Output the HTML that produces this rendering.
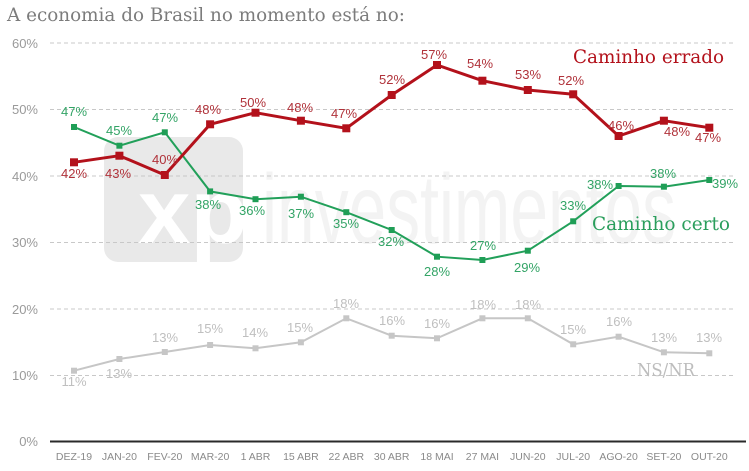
<!DOCTYPE html>
<html><head><meta charset="utf-8"><style>
html,body{margin:0;padding:0;background:#fff;}
svg{display:block;}
</style></head><body>
<svg width="749" height="471" viewBox="0 0 749 471" xmlns="http://www.w3.org/2000/svg">
<rect width="749" height="471" fill="#fff"/>
<!-- title -->
<text x="7" y="21" font-family="DejaVu Serif, Liberation Serif, serif" font-size="19" fill="#7c7c7c" textLength="398" lengthAdjust="spacingAndGlyphs">A economia do Brasil no momento está no:</text>

<!-- watermark -->
<rect x="104" y="137" width="139" height="125" rx="14" fill="#e9e9e9"/>
<text x="138" y="243" font-family="Liberation Sans, sans-serif" font-weight="bold" font-size="92" fill="#fff" textLength="110" lengthAdjust="spacingAndGlyphs">xp</text>
<text x="262" y="243" font-family="Liberation Sans, sans-serif" font-size="98" fill="#f3f3f3" textLength="414" lengthAdjust="spacingAndGlyphs">investimentos</text>

<!-- gridlines -->
<g stroke="#c8c8c8" stroke-width="1" stroke-dasharray="4,3">
<line x1="50" y1="43" x2="733" y2="43"/>
<line x1="50" y1="109.5" x2="733" y2="109.5"/>
<line x1="50" y1="176" x2="733" y2="176"/>
<line x1="50" y1="242.5" x2="733" y2="242.5"/>
<line x1="50" y1="309" x2="733" y2="309"/>
<line x1="50" y1="375.5" x2="733" y2="375.5"/>
</g>
<line x1="50" y1="441.5" x2="746" y2="441.5" stroke="#2a2a2a" stroke-width="2"/>

<!-- y labels -->
<g font-family="Liberation Sans, sans-serif" font-size="13" fill="#9a9a9a" text-anchor="end">
<text x="38" y="48">60%</text>
<text x="38" y="114">50%</text>
<text x="38" y="181">40%</text>
<text x="38" y="247">30%</text>
<text x="38" y="314">20%</text>
<text x="38" y="380">10%</text>
<text x="38" y="446">0%</text>
</g>

<!-- x labels -->
<g font-family="Liberation Sans, sans-serif" font-size="10.5" fill="#8a8a8a" text-anchor="middle">
<text x="74" y="460">DEZ-19</text>
<text x="119.4" y="460">JAN-20</text>
<text x="164.8" y="460">FEV-20</text>
<text x="210.1" y="460">MAR-20</text>
<text x="255.5" y="460">1 ABR</text>
<text x="300.9" y="460">15 ABR</text>
<text x="346.3" y="460">22 ABR</text>
<text x="391.7" y="460">30 ABR</text>
<text x="437" y="460">18 MAI</text>
<text x="482.4" y="460">27 MAI</text>
<text x="527.8" y="460">JUN-20</text>
<text x="573.2" y="460">JUL-20</text>
<text x="618.6" y="460">AGO-20</text>
<text x="663.9" y="460">SET-20</text>
<text x="709.3" y="460">OUT-20</text>
</g>

<!-- gray series -->
<polyline fill="none" stroke="#c6c6c6" stroke-width="2" points="74,370.7 119.4,359 164.8,352 210.1,345 255.5,348.3 300.9,342.3 346.3,318.3 391.7,335.7 437,338.3 482.4,318.3 527.8,318.3 573.2,344.3 618.6,336.7 663.9,352.3 709.3,353.3"/>
<g fill="#c6c6c6">
<rect x="71" y="367.7" width="6" height="6"/><rect x="116.4" y="356" width="6" height="6"/><rect x="161.8" y="349" width="6" height="6"/><rect x="207.1" y="342" width="6" height="6"/><rect x="252.5" y="345.3" width="6" height="6"/><rect x="297.9" y="339.3" width="6" height="6"/><rect x="343.3" y="315.3" width="6" height="6"/><rect x="388.7" y="332.7" width="6" height="6"/><rect x="434" y="335.3" width="6" height="6"/><rect x="479.4" y="315.3" width="6" height="6"/><rect x="524.8" y="315.3" width="6" height="6"/><rect x="570.2" y="341.3" width="6" height="6"/><rect x="615.6" y="333.7" width="6" height="6"/><rect x="660.9" y="349.3" width="6" height="6"/><rect x="706.3" y="350.3" width="6" height="6"/>
</g>
<g font-family="Liberation Sans, sans-serif" font-size="13" fill="#bfbfbf" text-anchor="middle">
<text x="74" y="386">11%</text>
<text x="119" y="378">13%</text>
<text x="165" y="342">13%</text>
<text x="210" y="333">15%</text>
<text x="255" y="337">14%</text>
<text x="300" y="332">15%</text>
<text x="346" y="308">18%</text>
<text x="392" y="325">16%</text>
<text x="437" y="328">16%</text>
<text x="483" y="309">18%</text>
<text x="528" y="309">18%</text>
<text x="573" y="334">15%</text>
<text x="619" y="326">16%</text>
<text x="664" y="342">13%</text>
<text x="709" y="342">13%</text>
</g>
<text x="666" y="376" font-family="DejaVu Serif, Liberation Serif, serif" font-size="18" fill="#bdbdbd" text-anchor="middle" textLength="58" lengthAdjust="spacingAndGlyphs">NS/NR</text>

<!-- green series -->
<polyline fill="none" stroke="#22a05a" stroke-width="2" points="74,127 119.4,145.7 164.8,132.3 210.1,191.4 255.5,199.2 300.9,196.7 346.3,212.2 391.7,230 437,256.7 482.4,260 527.8,250.7 573.2,221.3 618.6,186 663.9,186.7 709.3,180"/>
<g fill="#1f9e56">
<rect x="71" y="124" width="6" height="6"/><rect x="116.4" y="142.7" width="6" height="6"/><rect x="161.8" y="129.3" width="6" height="6"/><rect x="207.1" y="188.4" width="6" height="6"/><rect x="252.5" y="196.2" width="6" height="6"/><rect x="297.9" y="193.7" width="6" height="6"/><rect x="343.3" y="209.2" width="6" height="6"/><rect x="388.7" y="227" width="6" height="6"/><rect x="434" y="253.7" width="6" height="6"/><rect x="479.4" y="257" width="6" height="6"/><rect x="524.8" y="247.7" width="6" height="6"/><rect x="570.2" y="218.3" width="6" height="6"/><rect x="615.6" y="183" width="6" height="6"/><rect x="660.9" y="183.7" width="6" height="6"/><rect x="706.3" y="177" width="6" height="6"/>
</g>
<g font-family="Liberation Sans, sans-serif" font-size="13" fill="#33a466" text-anchor="middle">
<text x="74" y="116">47%</text>
<text x="119" y="135">45%</text>
<text x="165" y="122">47%</text>
<text x="208" y="209">38%</text>
<text x="252" y="215">36%</text>
<text x="301" y="218">37%</text>
<text x="346" y="228">35%</text>
<text x="391" y="246">32%</text>
<text x="437" y="276">28%</text>
<text x="483" y="250">27%</text>
<text x="527" y="272">29%</text>
<text x="573" y="210">33%</text>
<text x="600" y="189">38%</text>
<text x="663" y="178">38%</text>
<text x="725" y="188">39%</text>
</g>
<text x="592" y="230" font-family="DejaVu Serif, Liberation Serif, serif" font-size="19" fill="#2a9e5c" textLength="138" lengthAdjust="spacingAndGlyphs">Caminho certo</text>

<!-- red series -->
<polyline fill="none" stroke="#b3111b" stroke-width="3" stroke-linejoin="round" points="74,162.3 119.4,155.7 164.8,175 210.1,124.3 255.5,112.7 300.9,120.7 346.3,128.3 391.7,95 437,65 482.4,80.7 527.8,90 573.2,94.3 618.6,136 663.9,120.7 709.3,127.7"/>
<g fill="#b3111b">
<rect x="70" y="158.3" width="8" height="8"/><rect x="115.4" y="151.7" width="8" height="8"/><rect x="160.8" y="171" width="8" height="8"/><rect x="206.1" y="120.3" width="8" height="8"/><rect x="251.5" y="108.7" width="8" height="8"/><rect x="296.9" y="116.7" width="8" height="8"/><rect x="342.3" y="124.3" width="8" height="8"/><rect x="387.7" y="91" width="8" height="8"/><rect x="433" y="61" width="8" height="8"/><rect x="478.4" y="76.7" width="8" height="8"/><rect x="523.8" y="86" width="8" height="8"/><rect x="569.2" y="90.3" width="8" height="8"/><rect x="614.6" y="132" width="8" height="8"/><rect x="659.9" y="116.7" width="8" height="8"/><rect x="705.3" y="123.7" width="8" height="8"/>
</g>
<g font-family="Liberation Sans, sans-serif" font-size="13" fill="#b0323a" text-anchor="middle">
<text x="74" y="178">42%</text>
<text x="118" y="178">43%</text>
<text x="165" y="164">40%</text>
<text x="208" y="114">48%</text>
<text x="253" y="107">50%</text>
<text x="300" y="112">48%</text>
<text x="344" y="118">47%</text>
<text x="392" y="84">52%</text>
<text x="434" y="59">57%</text>
<text x="480" y="68">54%</text>
<text x="528" y="79">53%</text>
<text x="571" y="85">52%</text>
<text x="621" y="130">46%</text>
<text x="677" y="136">48%</text>
<text x="708" y="142">47%</text>
</g>
<text x="573" y="63" font-family="DejaVu Serif, Liberation Serif, serif" font-size="19" fill="#b3111b" textLength="151" lengthAdjust="spacingAndGlyphs">Caminho errado</text>
</svg>
</body></html>
